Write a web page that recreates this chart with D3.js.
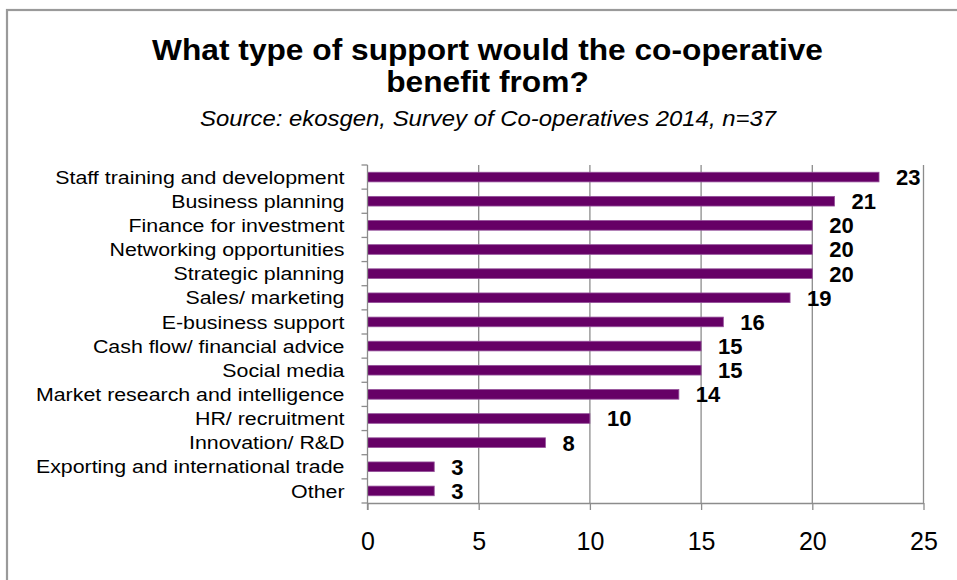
<!DOCTYPE html>
<html>
<head>
<meta charset="utf-8">
<script src="https://cdn.jsdelivr.net/npm/d3@7"></script>
<style>
  html, body { margin: 0; padding: 0; background: #fff; }
  svg { display: block; font-family: "Liberation Sans", Arial, sans-serif; }
</style>
</head>
<body>
<svg id="chart" width="957" height="580"></svg>
<script>
// Survey responses: type of support co-operatives would benefit from
const categories = [
  "Staff training and development",
  "Business planning",
  "Finance for investment",
  "Networking opportunities",
  "Strategic planning",
  "Sales/ marketing",
  "E-business support",
  "Cash flow/ financial advice",
  "Social media",
  "Market research and intelligence",
  "HR/ recruitment",
  "Innovation/ R&D",
  "Exporting and international trade",
  "Other"
];
const counts = [23, 21, 20, 20, 20, 19, 16, 15, 15, 14, 10, 8, 3, 3];
const xTicks = [0, 5, 10, 15, 20, 25];
const titleLines = ["What type of support would the co-operative", "benefit from?"];
const subtitle = "Source: ekosgen, Survey of Co-operatives 2014, n=37";

const svg = d3.select("#chart");
const W = 957, H = 580;
const plot = { left: 367.5, right: 923.5, top: 165, bottom: 503 };
const gridColor = "#8c8c8c";

// Outer chart frame
svg.append("rect")
  .attr("x", 7).attr("y", 10)
  .attr("width", W + 20).attr("height", H + 20)
  .attr("fill", "#fff")
  .attr("stroke", "#9a9a9a")
  .attr("stroke-width", 2.2);

// Title and subtitle (text is slightly widened horizontally)
svg.append("g").selectAll("text")
  .data(titleLines)
  .join("text")
  .attr("transform", (d, i) => `translate(487.5,${60 + i * 32}) scale(1.075,1)`)
  .attr("text-anchor", "middle")
  .attr("font-size", 29.5)
  .attr("font-weight", "bold")
  .attr("fill", "#000")
  .text(d => d);

svg.append("text")
  .attr("transform", "translate(488,126) scale(1.087,1)")
  .attr("text-anchor", "middle")
  .attr("font-size", 22)
  .attr("font-style", "italic")
  .attr("fill", "#000")
  .text(subtitle);

// Scales
const x = d3.scaleLinear().domain([0, 25]).range([plot.left, plot.right]);
const y = d3.scaleBand().domain(categories)
  .range([plot.top, plot.bottom])
  .paddingInner(0.6).paddingOuter(0.3);

// Vertical gridlines
svg.append("g").selectAll("line")
  .data(xTicks.filter(t => t > 0))
  .join("line")
  .attr("x1", d => x(d)).attr("x2", d => x(d))
  .attr("y1", plot.top).attr("y2", plot.bottom)
  .attr("stroke", gridColor).attr("stroke-width", 1.3);

// Bars
svg.append("g").selectAll("rect")
  .data(categories)
  .join("rect")
  .attr("x", x(0))
  .attr("y", d => y(d))
  .attr("width", (d, i) => x(counts[i]) - x(0))
  .attr("height", y.bandwidth())
  .attr("fill", "#660066")
  .attr("stroke", "#94509a")
  .attr("stroke-width", 0.8);

// Value labels
svg.append("g").selectAll("text")
  .data(categories)
  .join("text")
  .attr("x", (d, i) => x(counts[i]) + 17)
  .attr("y", d => y(d) + y.bandwidth() / 2)
  .attr("dy", "0.36em")
  .attr("font-size", 22)
  .attr("font-weight", "bold")
  .attr("fill", "#000")
  .text((d, i) => counts[i]);

// Category axis (left): ticks sit at band boundaries
const yAxisG = svg.append("g");
const step = y.step();
const boundaries = d3.range(categories.length + 1).map(i => plot.top + i * step);
yAxisG.append("line")
  .attr("x1", plot.left).attr("x2", plot.left)
  .attr("y1", plot.top).attr("y2", plot.bottom + 7)
  .attr("stroke", gridColor).attr("stroke-width", 1.3);
yAxisG.selectAll("line.tick")
  .data(boundaries)
  .join("line")
  .attr("class", "tick")
  .attr("x1", plot.left - 6).attr("x2", plot.left)
  .attr("y1", d => d).attr("y2", d => d)
  .attr("stroke", gridColor).attr("stroke-width", 1.3);
yAxisG.selectAll("text")
  .data(categories)
  .join("text")
  .attr("transform", d => `translate(344.5,${y(d) + y.bandwidth() / 2}) scale(1.155,1)`)
  .attr("dy", "0.36em")
  .attr("text-anchor", "end")
  .attr("font-size", 18.5)
  .attr("fill", "#000")
  .text(d => d);

// Value axis (bottom)
const xAxis = d3.axisBottom(x)
  .tickValues(xTicks)
  .tickSizeInner(7)
  .tickSizeOuter(0)
  .tickPadding(22);
const xAxisG = svg.append("g")
  .attr("transform", `translate(0,${plot.bottom})`)
  .call(xAxis);
xAxisG.select(".domain").attr("stroke", gridColor).attr("stroke-width", 1.3);
xAxisG.selectAll(".tick line").attr("stroke", gridColor).attr("stroke-width", 1.3);
xAxisG.selectAll(".tick text")
  .attr("font-size", 25)
  .attr("font-family", "Liberation Sans, Arial, sans-serif")
  .attr("fill", "#000");
</script>
</body>
</html>
